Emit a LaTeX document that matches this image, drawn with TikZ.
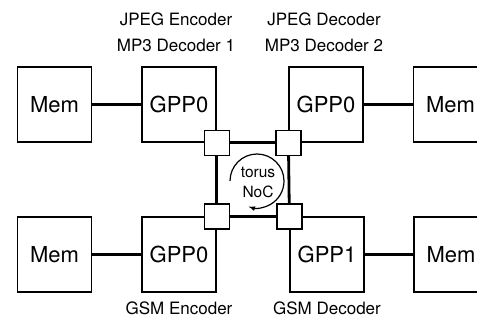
\documentclass[tikz,border=0pt]{standalone}
\usepackage{fontspec}
\setmainfont{TeX Gyre Heros}
\begin{document}
\begin{tikzpicture}[x=1pt,y=1pt,
  blk/.style={draw, line width=1.2pt, minimum width=74pt, minimum height=75pt, inner sep=0pt, font=\fontsize{22}{26}\selectfont},
  rtr/.style={draw, fill=white, line width=1.2pt, minimum size=25pt, inner sep=0pt},
  link/.style={line width=2.8pt},
  lbl/.style={align=center, font=\fontsize{17}{26}\selectfont}]
\clip (0,0) rectangle (477,325);
\node[blk] (mem0) at (54.5,220.5){Mem};
\node[blk] (gpp0) at (179,220.5){GPP0};
\node[blk] (gpp1) at (326,220.5){GPP0};
\node[blk] (mem1) at (450.5,220.5){Mem};
\node[blk] (mem2) at (54.5,70.5){Mem};
\node[blk] (gpp2) at (179,70.5){GPP0};
\node[blk] (gpp3) at (327,70.5){GPP1};
\node[blk] (mem3) at (451,70.5){Mem};
\node[rtr] (rt0) at (gpp0.south east){};
\node[rtr] (rt1) at (gpp1.south west){};
\node[rtr] (rt2) at (gpp2.north east){};
\node[rtr] (rt3) at (gpp3.north west){};
\draw[link](mem0) -- (gpp0);
\draw[link](gpp1) -- (mem1);
\draw[link](mem2) -- (gpp2);
\draw[link](gpp3) -- (mem3);
\draw[link](rt0) -- (rt1);
\draw[link](rt2) -- (rt3);
\draw[link](rt0) -- (rt2);
\draw[link](rt1) -- (rt3);
% torus
\coordinate (noc) at (257,144);
\draw[line width=1.2pt,-latex]([shift={(180:27)}]noc) arc[start angle=180, end angle=-108, radius=27];
\node[align=center, font=\fontsize{15.5}{20}\selectfont] (nocl) at (258,143){torus\\NoC};
% labels
\node[lbl] (lb0) at (176,292.5){JPEG Encoder\\MP3 Decoder 1};
\node[lbl] (lb1) at (324,292.5){JPEG Decoder\\MP3 Decoder 2};
\node[lbl] (lb2) at (179,17){GSM Encoder};
\node[lbl] (lb3) at (327,17){GSM Decoder};
\end{tikzpicture}
\end{document}
